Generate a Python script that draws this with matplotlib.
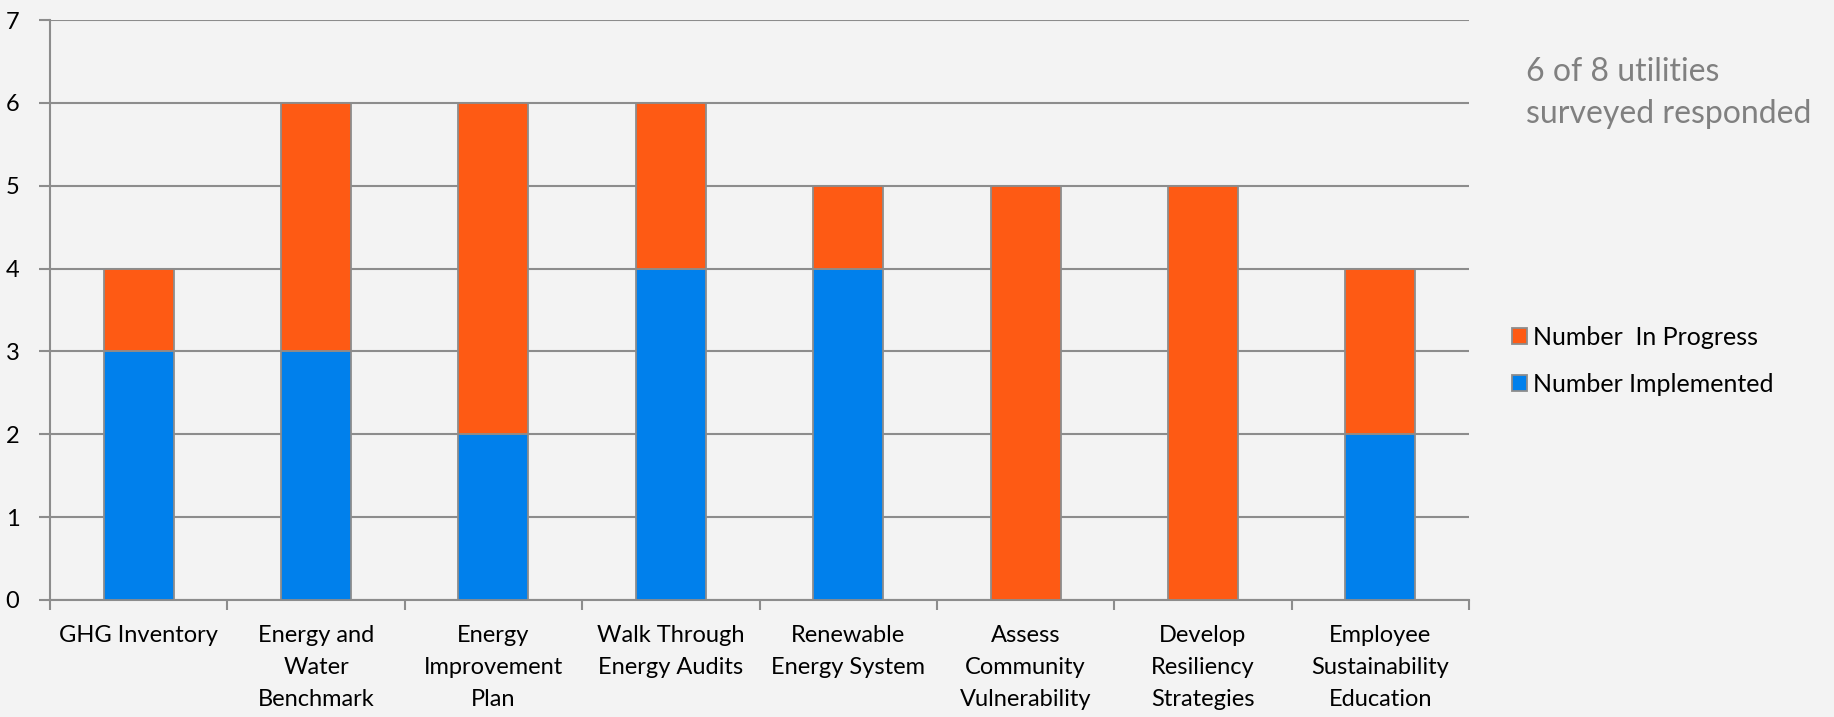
import numpy as np
import matplotlib
matplotlib.use("Agg")
import matplotlib.pyplot as plt
from matplotlib.patches import Patch

categories = ["GHG Inventory", "Energy and\nWater\nBenchmark", "Energy\nImprovement\nPlan",
              "Walk Through\nEnergy Audits", "Renewable\nEnergy System", "Assess\nCommunity\nVulnerability",
              "Develop\nResiliency\nStrategies", "Employee\nSustainability\nEducation"]
implemented = [3, 3, 2, 4, 4, 0, 0, 2]
in_progress = [1, 3, 4, 2, 1, 5, 5, 2]

bg = "#f3f3f3"
grid_col = "#8c8c8c"
orange = "#fe5a14"
blue = "#0080ec"

plt.rcParams["font.family"] = ["Lato", "DejaVu Sans"]

fig = plt.figure(figsize=(18.34, 7.17), dpi=100, facecolor=bg)
ax = fig.add_axes([50 / 1834, 1 - 600 / 717, 1419 / 1834, 580 / 717])
ax.set_facecolor(bg)

x = np.arange(len(categories))
w = 0.395
ax.bar(x, implemented, w, color=blue, edgecolor=grid_col, linewidth=1.3, zorder=3)
ax.bar(x, in_progress, w, bottom=implemented, color=orange, edgecolor=grid_col, linewidth=1.3, zorder=3)

ax.set_xlim(-0.5, len(categories) - 0.5)
ax.set_ylim(0, 7)
ax.set_yticks(range(8))
ax.yaxis.grid(True, color=grid_col, linewidth=1.5, zorder=0)
ax.set_axisbelow(True)

ax.set_xticks(x)
ax.set_xticklabels(categories, fontsize=17, linespacing=1.65, va="top")
ax.tick_params(axis="x", which="major", length=0, pad=18)
ax.set_xticks(np.arange(-0.5, len(categories)), minor=True)
ax.tick_params(axis="x", which="minor", length=7, width=1.5, color=grid_col)
ax.tick_params(axis="y", length=8, width=1.5, color=grid_col, labelsize=17, pad=14)

for s in ["top", "right"]:
    ax.spines[s].set_visible(False)
for s in ["left", "bottom"]:
    ax.spines[s].set_color(grid_col)
    ax.spines[s].set_linewidth(1.5)

# side note, top right
fig.text(1526 / 1834, 1 - 93 / 717, "6 of 8 utilities\nsurveyed responded", fontsize=23,
         color="#808080", va="center", ha="left", linespacing=1.48)

handles = [Patch(facecolor=orange, edgecolor=grid_col, linewidth=1.3, label="Number  In Progress"),
           Patch(facecolor=blue, edgecolor=grid_col, linewidth=1.3, label="Number Implemented")]
fig.legend(handles=handles, loc="center left", bbox_to_anchor=(1512 / 1834, 1 - 361 / 717),
           frameon=False, fontsize=18, handlelength=0.6, handleheight=0.6,
           handletextpad=0.25, labelspacing=0.96, borderaxespad=0, borderpad=0)

fig.savefig("out.png", dpi=100, facecolor=bg)
